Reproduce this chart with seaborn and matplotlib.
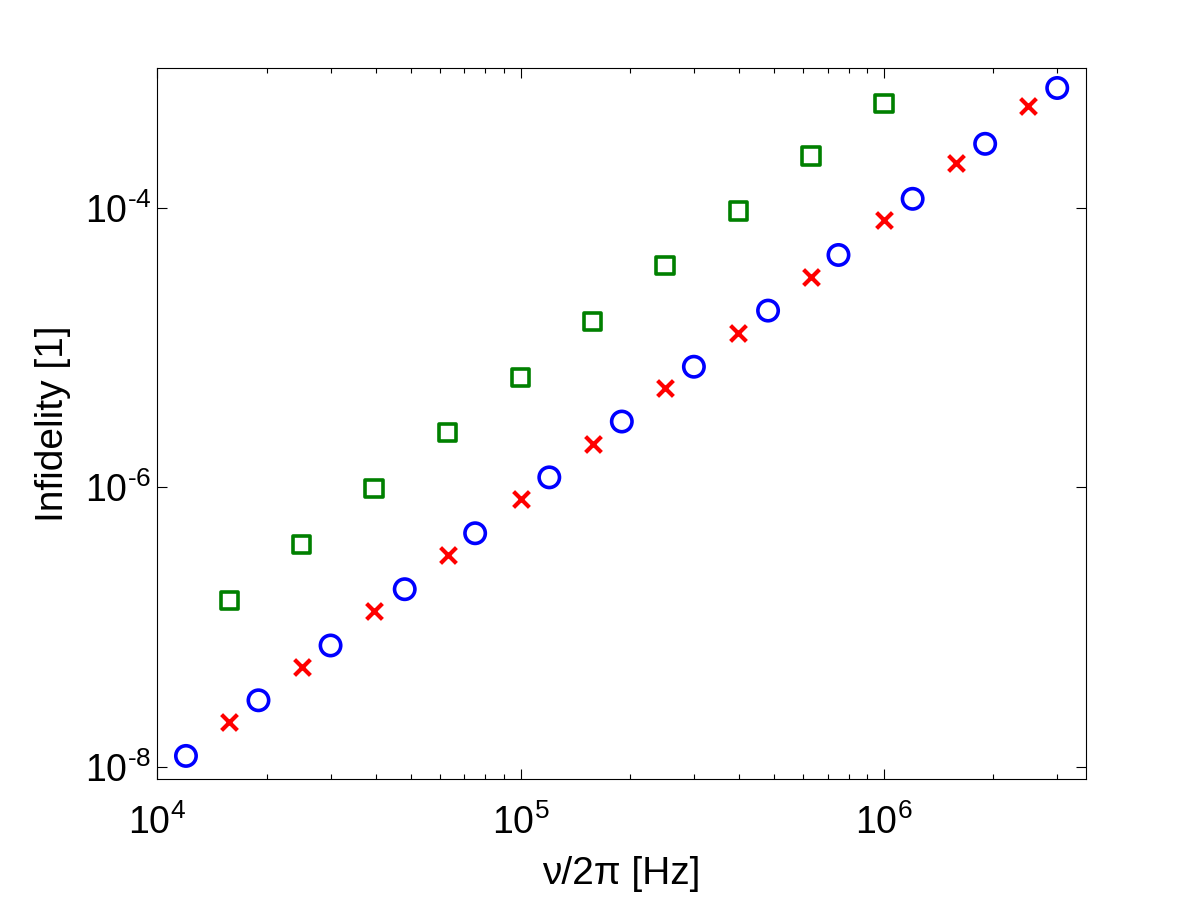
import numpy as np
import pandas as pd
import matplotlib
matplotlib.use("Agg")
import matplotlib.pyplot as plt
import matplotlib.ticker as mticker
import seaborn as sns

# Data (log-log)
freq_circle = [1.2e4, 1.9e4, 3.0e4, 4.8e4, 7.5e4, 1.2e5, 1.9e5, 3.0e5, 4.8e5, 7.5e5, 1.2e6, 1.9e6, 3.0e6]
infid_circle = [1.2e-8, 3.0e-8, 7.4e-8, 1.87e-7, 4.7e-7, 1.18e-6, 2.96e-6, 7.3e-6, 1.84e-5, 4.6e-5, 1.16e-4, 2.87e-4, 7.2e-4]

freq_cross = [1.58e4, 2.5e4, 3.95e4, 6.3e4, 1.0e5, 1.58e5, 2.5e5, 3.98e5, 6.3e5, 1.0e6, 1.58e6, 2.5e6]
infid_cross = [2.1e-8, 5.2e-8, 1.3e-7, 3.27e-7, 8.2e-7, 2.06e-6, 5.1e-6, 1.28e-5, 3.2e-5, 8.2e-5, 2.1e-4, 5.35e-4]

freq_square = [1.58e4, 2.5e4, 3.95e4, 6.3e4, 1.0e5, 1.58e5, 2.5e5, 3.98e5, 6.3e5, 1.0e6]
infid_square = [1.56e-7, 3.9e-7, 9.8e-7, 2.47e-6, 6.1e-6, 1.53e-5, 3.85e-5, 9.5e-5, 2.35e-4, 5.6e-4]

sns.set_style("ticks")
plt.rcParams["font.family"] = ["Liberation Sans", "DejaVu Sans"]
plt.rcParams["mathtext.fontset"] = "custom"
plt.rcParams["mathtext.rm"] = "Liberation Sans"
plt.rcParams["mathtext.it"] = "Liberation Sans:italic"
plt.rcParams["mathtext.default"] = "regular"
plt.rcParams["axes.unicode_minus"] = False
for k in ["text.color", "axes.labelcolor", "xtick.color", "ytick.color", "axes.edgecolor"]:
    plt.rcParams[k] = "black"


def pow10(v, pos):
    e = int(round(np.log10(v)))
    if e < 0:
        return r"$10^{\text{-}%d}$" % (-e)
    return r"$10^{%d}$" % e


fig = plt.figure(figsize=(12, 9), dpi=100)
ax = fig.add_axes([0.131, 0.1344, 0.774, 0.79])

df_c = pd.DataFrame({"f": freq_circle, "inf": infid_circle})
df_x = pd.DataFrame({"f": freq_cross, "inf": infid_cross})
df_s = pd.DataFrame({"f": freq_square, "inf": infid_square})

sns.scatterplot(data=df_c, x="f", y="inf", ax=ax, marker="o", s=215,
                facecolor="none", edgecolor="#0000ff", linewidth=2.6)
sns.scatterplot(data=df_x, x="f", y="inf", ax=ax, marker="x", s=130,
                color="#ff0000", linewidth=3.0)
sns.scatterplot(data=df_s, x="f", y="inf", ax=ax, marker="s", s=155,
                facecolor="none", edgecolor="#008000", linewidth=2.6)

ax.set_xscale("log")
ax.set_yscale("log")
ax.set_xlim(1e4, 3.6e6)
ax.set_ylim(8.2e-9, 1.0e-3)

ax.xaxis.set_major_locator(mticker.FixedLocator([1e4, 1e5, 1e6]))
ax.xaxis.set_minor_locator(mticker.LogLocator(base=10, subs=np.arange(2, 10), numticks=20))
ax.xaxis.set_minor_formatter(mticker.NullFormatter())
ax.yaxis.set_major_locator(mticker.FixedLocator([1e-8, 1e-6, 1e-4]))
ax.yaxis.set_minor_locator(mticker.NullLocator())
ax.xaxis.set_major_formatter(mticker.FuncFormatter(pow10))
ax.yaxis.set_major_formatter(mticker.FuncFormatter(pow10))

ax.tick_params(which="both", direction="in", top=True, right=True, width=0.8, color="black")
ax.tick_params(which="major", length=7, labelsize=27)
ax.tick_params(which="minor", length=3.5)
ax.tick_params(axis="x", which="major", pad=18)
ax.tick_params(axis="y", which="major", pad=4)

for sp in ax.spines.values():
    sp.set_visible(True)
    sp.set_linewidth(0.8)
    sp.set_color("black")

ax.set_xlabel("ν/2π [Hz]", fontsize=28, labelpad=10)
ax.set_ylabel("Infidelity [1]", fontsize=28, labelpad=10)

fig.savefig("out.png", dpi=100, facecolor="white")
